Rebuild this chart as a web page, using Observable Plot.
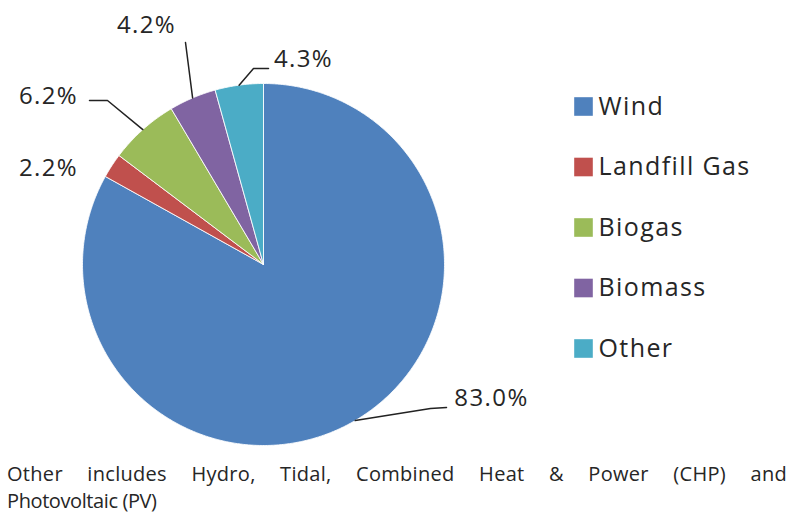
<!DOCTYPE html>
<html>
<head>
<meta charset="utf-8">
<script src="https://cdn.jsdelivr.net/npm/d3@7"></script>
<script src="https://cdn.jsdelivr.net/npm/@observablehq/plot@0.6"></script>
<style>
  html, body { margin: 0; padding: 0; background: #fff; }
  #wrap { width: 792px; }
  .cap { font-family: "Open Sans", sans-serif; font-size: 20px; line-height: 27px; color: #262626; padding: 0 5px 0 7px; }
  .l1 { text-align: justify; text-align-last: justify; letter-spacing: 0.3px; padding-top: 2px; }
  .l2 { letter-spacing: -0.4px; }
</style>
</head>
<body>
<div id="wrap"></div>
<script>
// ---- data ----
const names  = ["Wind", "Landfill Gas", "Biogas", "Biomass", "Other"];
const values = [83.0, 2.2, 6.2, 4.2, 4.3];
const labels = ["83.0%", "2.2%", "6.2%", "4.2%", "4.3%"];
const colors = ["#4F81BD", "#C0504D", "#9BBB59", "#8064A2", "#4BACC6"];
const captionLines = [
  "Other includes Hydro, Tidal, Combined Heat & Power (CHP) and",
  "Photovoltaic (PV)"
];

// ---- layout ----
const W = 792, H = 458;
const cx = 263, cy = 264, R = 181;
// label placement (annotation layout, pixel space)
const labelLayout = {
  "Wind":         {tx: 491, ty: 398, path: [[430, 408], [446, 407]]},
  "Landfill Gas": {tx: 48,  ty: 168, path: null},
  "Biogas":       {tx: 48,  ty: 96,  path: [[107, 100], [89, 100]]},
  "Biomass":      {tx: 146, ty: 25,  path: [[185, 42]]},
  "Other":        {tx: 303, ty: 59,  path: [[253, 68], [268, 68]]}
};

const arcs = d3.pie().sort(null).value(d => d)(values);
const pt = (a, r) => [cx + r * Math.sin(a), cy - r * Math.cos(a)];

// slice polygons
const slicePts = [];
arcs.forEach((a, i) => {
  const name = names[i];
  slicePts.push({name, x: cx, y: cy});
  const n = Math.max(2, Math.ceil((a.endAngle - a.startAngle) / (Math.PI / 360)));
  for (let k = 0; k <= n; k++) {
    const t = a.startAngle + (a.endAngle - a.startAngle) * k / n;
    const [x, y] = pt(t, R);
    slicePts.push({name, x, y});
  }
  slicePts.push({name, x: cx, y: cy});
});

// leader lines
const leaderPts = [];
arcs.forEach((a, i) => {
  const L = labelLayout[names[i]];
  if (!L.path) return;
  const mid = (a.startAngle + a.endAngle) / 2;
  const [x0, y0] = pt(mid, R);
  leaderPts.push({name: names[i], x: x0, y: y0});
  L.path.forEach(([x, y]) => leaderPts.push({name: names[i], x, y}));
});

const labelData = names.map((n, i) => ({name: n, label: labels[i], x: labelLayout[n].tx, y: labelLayout[n].ty}));
const legendData = names.map((n, i) => ({name: n, i}));
const legY = i => 106 + i * 60.5;

const chart = Plot.plot({
  width: W, height: H,
  margin: 0,
  x: {domain: [0, W], range: [0, W], axis: null},
  y: {domain: [0, H], range: [0, H], axis: null},
  color: {domain: names, range: colors},
  style: {fontFamily: "Open Sans, sans-serif", background: "#fff"},
  marks: [
    Plot.line(slicePts, {x: "x", y: "y", z: "name", fill: "name", stroke: "#fff", strokeWidth: 1, strokeOpacity: 0.85, curve: "linear"}),
    Plot.line(leaderPts, {x: "x", y: "y", z: "name", stroke: "#222", strokeWidth: 1.5, curve: "linear"}),
    Plot.text(labelData, {x: "x", y: "y", text: "label", fontSize: 24, fill: "#262626", textAnchor: "middle"}),
    Plot.dot(legendData, {x: () => 583, y: d => legY(d.i), symbol: "square", r: 10.5, fill: "name"}),
    Plot.text(legendData, {x: () => 598, y: d => legY(d.i), text: "name", fontSize: 25, fill: "#262626", textAnchor: "start"})
  ]
});

// letter-spacing for label & legend text
chart.querySelectorAll("text").forEach(t => t.style.letterSpacing = "1.4px");

const wrap = document.getElementById("wrap");
wrap.appendChild(chart);
const c1 = document.createElement("div");
c1.className = "cap l1"; c1.textContent = captionLines[0];
const c2 = document.createElement("div");
c2.className = "cap l2"; c2.textContent = captionLines[1];
wrap.appendChild(c1); wrap.appendChild(c2);
</script>
</body>
</html>
